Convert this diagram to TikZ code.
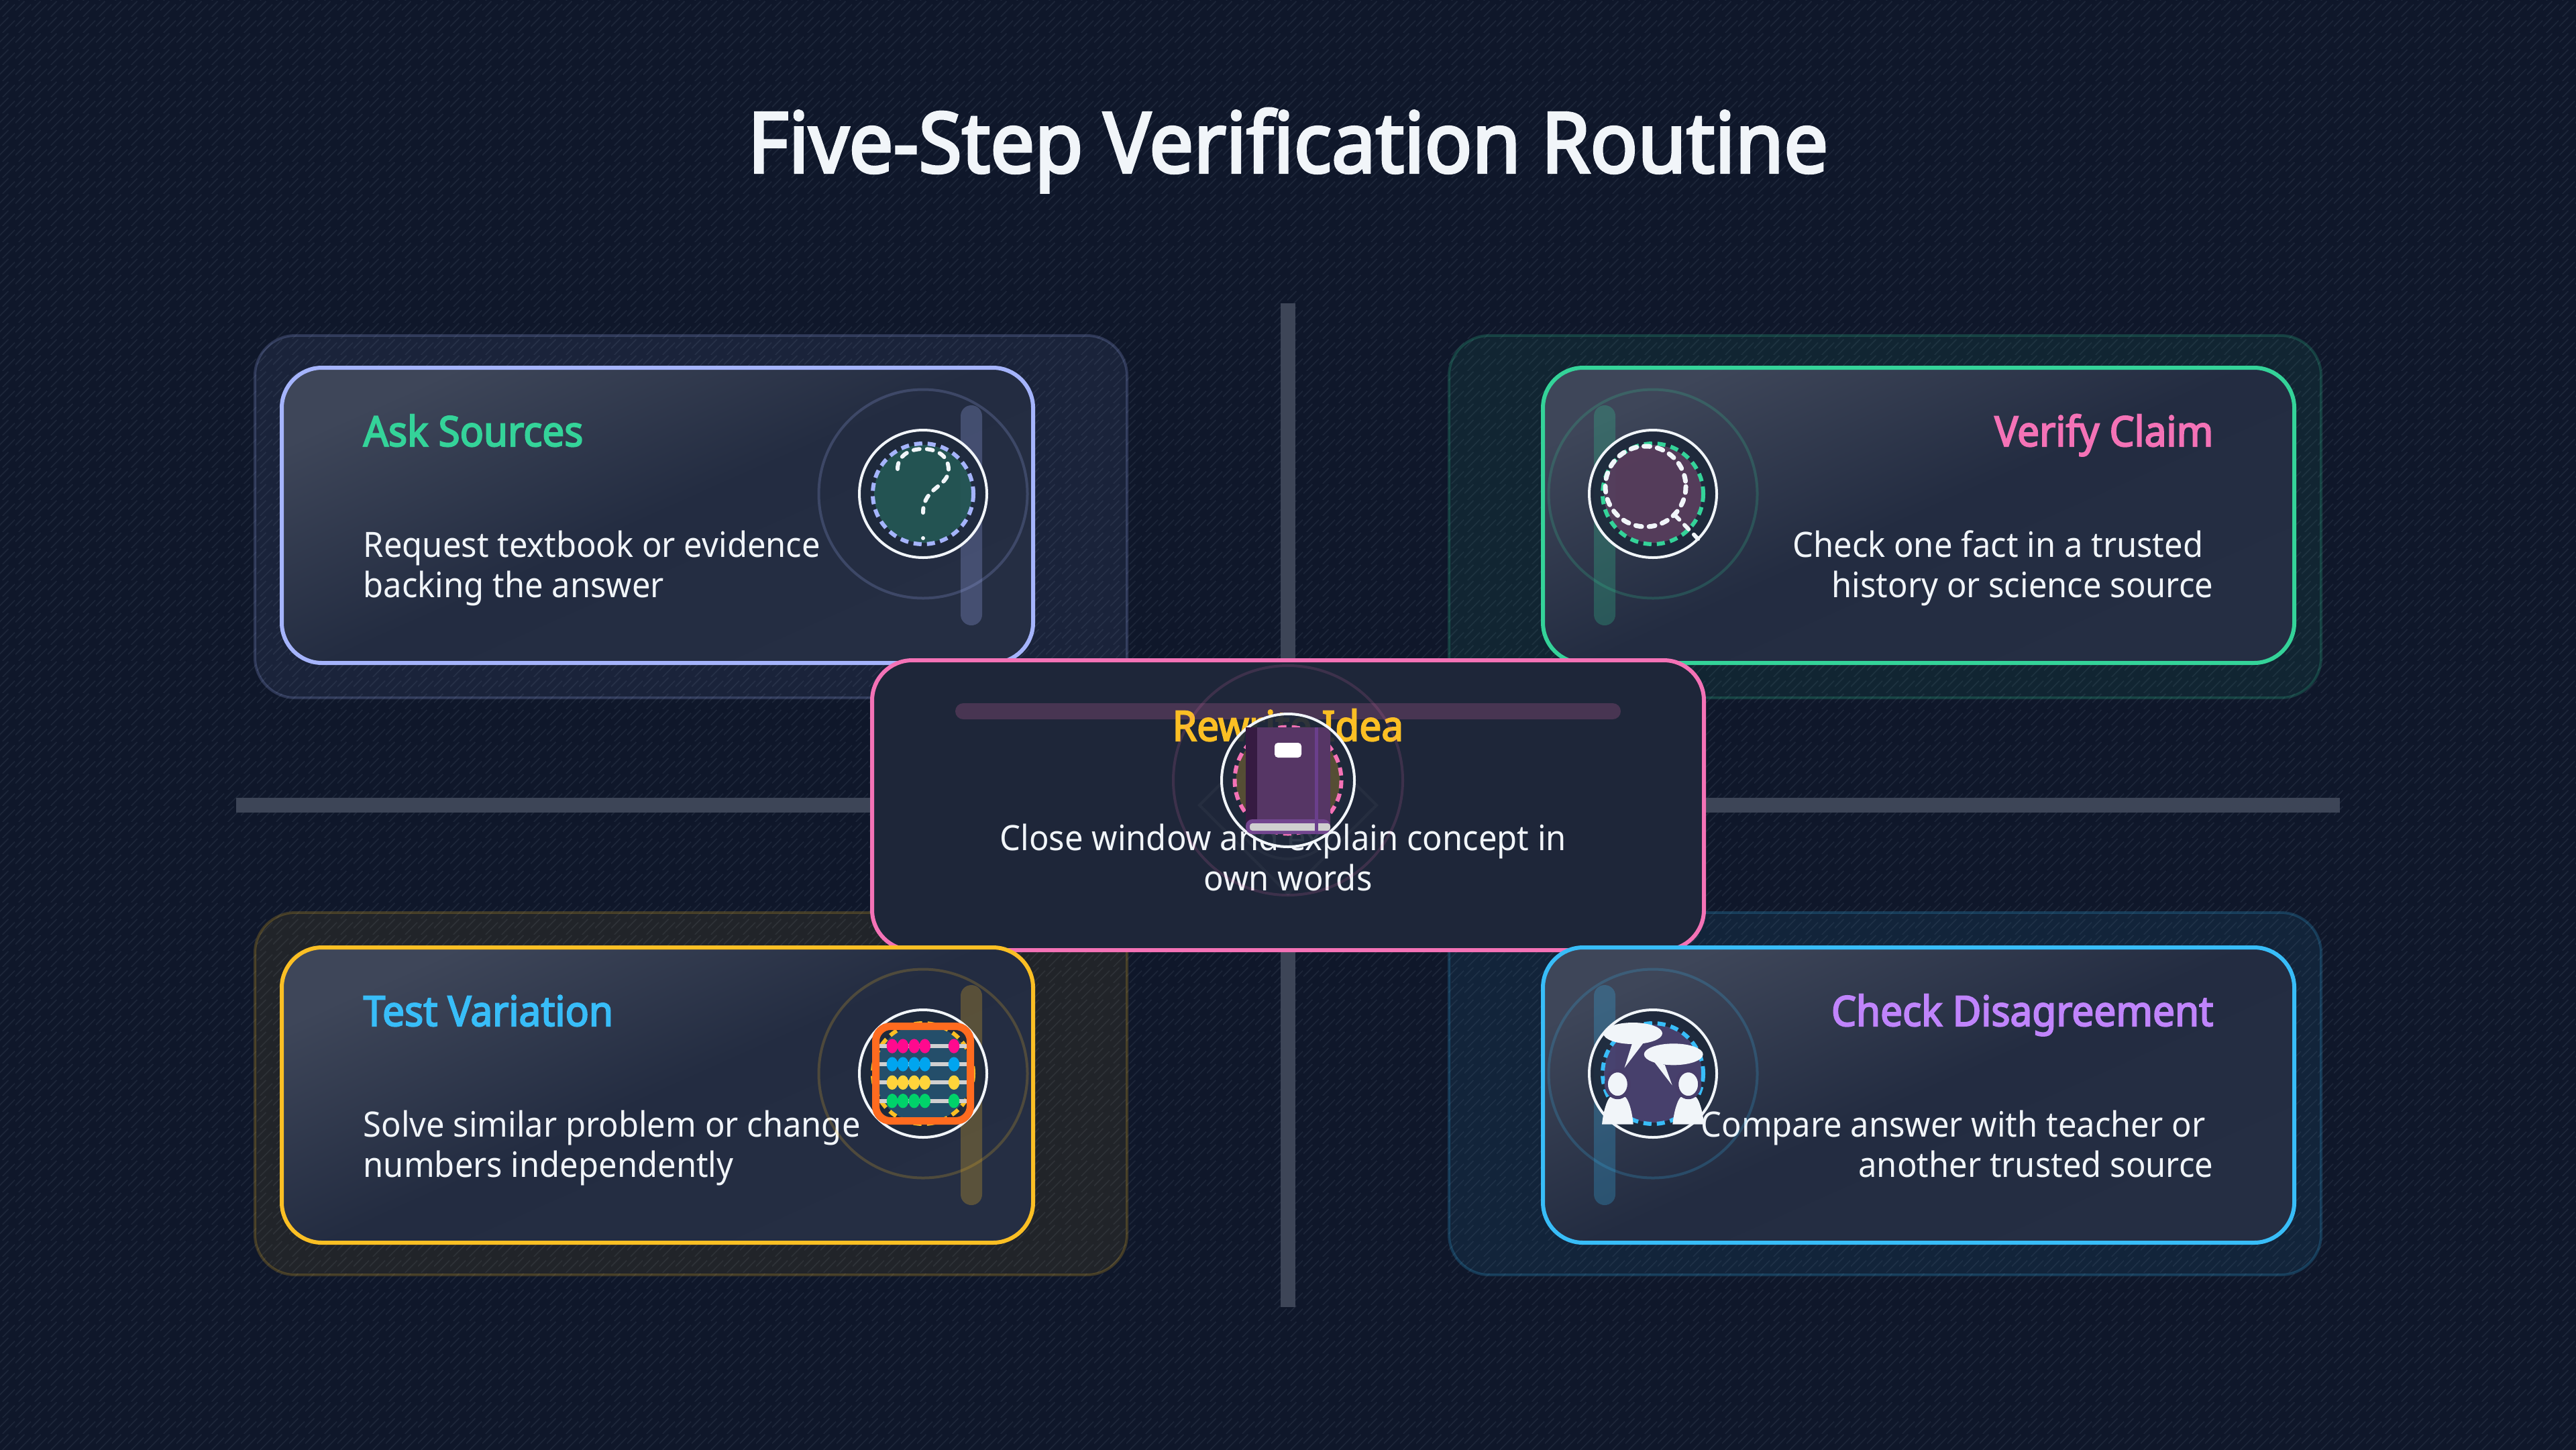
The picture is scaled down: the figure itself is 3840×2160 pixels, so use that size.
\documentclass[tikz,border=0pt]{standalone}
\usepackage{fontspec}
\setmainfont{Noto Sans}[FakeStretch=0.94]
\newfontfamily\headfont{Noto Sans}[FakeStretch=0.94,FakeBold=3.2]
\usetikzlibrary{patterns}
\definecolor{bgmid}{HTML}{0F172A}
\definecolor{bgcorner}{HTML}{1B2439}
\definecolor{hatchline}{HTML}{1D2639}
\definecolor{barcol}{HTML}{3D4557}
\definecolor{cardlight}{HTML}{3E4659}
\definecolor{carddark}{HTML}{232C41}
\definecolor{cardend}{HTML}{252E43}
\definecolor{midcard}{HTML}{1E2639}
\definecolor{discol}{HTML}{1E293B}
\definecolor{indigo}{HTML}{A5B4FC}
\definecolor{green}{HTML}{34D399}
\definecolor{pink}{HTML}{F472B6}
\definecolor{amber}{HTML}{FBBF24}
\definecolor{sky}{HTML}{38BDF8}
\definecolor{violet}{HTML}{C084FC}
\definecolor{inkwhite}{HTML}{F1F5F9}
\definecolor{bookspine}{HTML}{361B42}
\definecolor{bookcover}{HTML}{563665}
\definecolor{bookstrap}{HTML}{6A3F8C}
\definecolor{bookband}{HTML}{72468F}
\definecolor{pagegray}{HTML}{D0D0D0}
\definecolor{frameorange}{HTML}{FF6B1F}
\definecolor{beadpink}{HTML}{FF0A8E}
\definecolor{beadblue}{HTML}{00A5EF}
\definecolor{beadyellow}{HTML}{FFD43B}
\definecolor{beadgreen}{HTML}{00D26A}
\definecolor{talkfill}{HTML}{473D6A}
\pgfdeclareradialshading{bgglow}{\pgfpoint{0bp}{0bp}}{color(0bp)=(bgmid);color(30bp)=(bgmid);color(50bp)=(bgcorner)}
\pgfdeclarepatternformonly{slashes}{\pgfqpoint{0pt}{0pt}}{\pgfqpoint{6.83pt}{6.83pt}}{\pgfqpoint{6.83pt}{6.83pt}}{%
  \pgfsetlinewidth{0.5pt}
  \pgfpathmoveto{\pgfqpoint{0pt}{2.84pt}}\pgfpathlineto{\pgfqpoint{3.98pt}{6.83pt}}
  \pgfpathmoveto{\pgfqpoint{1.42pt}{0pt}}\pgfpathlineto{\pgfqpoint{6.83pt}{5.41pt}}
  \pgfusepath{stroke}}
\tikzset{
  panelbox/.style={draw=#1, draw opacity=.2, fill=#1, fill opacity=.08, line width=0.04cm, rounded corners=0.6cm},
  cardbox/.style={draw=#1, line width=0.06cm, rounded corners=0.6cm, shading=axis, top color=cardlight, bottom color=cardend, middle color=carddark, shading angle=24},
  sidebar/.style={fill=#1, fill opacity=.25, rounded corners=0.16cm},
  haloring/.style={draw=#1, draw opacity=.2, line width=0.04cm},
  discback/.style={fill=discol, fill opacity=.92},
  discring/.style={draw=inkwhite, line width=0.04cm},
  tintfill/.style={fill=#1, fill opacity=.25},
  dashring/.style={draw=#1, line width=0.06cm, dash pattern=on 0.12cm off 0.08cm},
  glyphline/.style={draw=inkwhite, line width=0.06cm, line cap=round, dash pattern=on 0.09cm off 0.11cm},
  headtext/.style={text=#1, font=\fontsize{17.7}{20}\headfont, inner sep=0pt},
  bodytext/.style={text=inkwhite, font=\fontsize{14.8}{18}\selectfont, inner sep=0pt},
  wirebar/.style={fill=pagegray},
  bead/.style={fill=#1},
  talkwhite/.style={fill=inkwhite},
}
\begin{document}
\begin{tikzpicture}[x=0.01cm,y=-0.01cm]
\useasboundingbox (0,0) rectangle (3840,2160);
\begin{scope}
\clip (0,0) rectangle (3840,2160);
\path[shading=bgglow] (-800,-450) rectangle (4640,2610);
\end{scope}
\fill[pattern=slashes, pattern color=hatchline] (0,0) rectangle (3840,2160);

\node[text=inkwhite, font=\fontsize{35.5}{40}\headfont, inner sep=0pt, anchor=base] (maintitle) at (1920,257) {Five-Step Verification Routine};

% cross
\fill[barcol] (1909,452) rectangle (1931,1948);
\fill[barcol] (352,1189) rectangle (3488,1211);

% back panels
\path[panelbox=indigo] (380,500) rectangle (1680,1040);
\path[panelbox=green] (2160,500) rectangle (3460,1040);
\path[panelbox=amber] (380,1360) rectangle (1680,1900);
\path[panelbox=sky] (2160,1360) rectangle (3460,1900);

% ask sources
\path[cardbox=indigo] (420,548) rectangle (1540,988);
\fill[sidebar=indigo] (1432,604) rectangle (1464,932);
\node[headtext=green, anchor=base west] (askhead) at (541,665) {Ask Sources};
\node[bodytext, anchor=base west] (askbodya) at (541,830) {Request textbook or evidence};
\node[bodytext, anchor=base west] (askbodyb) at (541,890) {backing the answer};
\draw[haloring=indigo] (1376,736) circle[radius=155.5];
\fill[discback] (1376,736) circle[radius=95];
\draw[discring] (1376,736) circle[radius=95];
\fill[tintfill=green] (1376,736) circle[radius=73];
\draw[dashring=indigo] (1376,736) circle[radius=75];
\draw[glyphline] (1338,699) .. controls (1338,679) and (1356,669) .. (1376,669) .. controls (1396,669) and (1414,679) .. (1414,700) .. controls (1414,726) and (1376,726) .. (1376,764);
\fill[inkwhite] (1376,802) circle[radius=3];

% verify claim
\path[cardbox=green] (2300,548) rectangle (3420,988);
\fill[sidebar=green] (2376,604) rectangle (2408,932);
\node[headtext=pink, anchor=base east] (verifyhead) at (3300,665) {Verify Claim};
\node[bodytext, anchor=base east] (verifybodya) at (3285,830) {Check one fact in a trusted};
\node[bodytext, anchor=base east] (verifybodyb) at (3300,890) {history or science source};
\draw[haloring=green] (2464,736) circle[radius=155.5];
\fill[discback] (2464,736) circle[radius=95];
\draw[discring] (2464,736) circle[radius=95];
\fill[tintfill=pink] (2464,736) circle[radius=73];
\draw[dashring=green] (2464,736) circle[radius=75];
\draw[glyphline, line width=0.07cm] (2453,725) circle[radius=60];
\draw[glyphline] (2497,768) -- (2535,807);

% rewrite idea
\path[draw=pink, fill=midcard, line width=0.06cm, rounded corners=0.6cm] (1300,984) rectangle (2540,1416);
\fill[sidebar=pink, fill opacity=.2, rounded corners=0.12cm] (1424,1048) rectangle (2416,1072);
\draw[draw=inkwhite, draw opacity=.04, line width=0.04cm] (1920,1068) -- (2052,1200) -- (1920,1332) -- (1788,1200) -- cycle;
\draw[draw=inkwhite, draw opacity=.04, line width=0.04cm] (1920,1200) circle[radius=80];
\node[headtext=amber, anchor=base] (rewritehead) at (1920,1104) {Rewrite Idea};
\node[bodytext, anchor=base] (rewritebodya) at (1913,1267) {Close window and explain concept in};
\node[bodytext, anchor=base] (rewritebodyb) at (1920,1327) {own words};
\draw[haloring=pink, draw opacity=.15] (1920,1163) circle[radius=171];
\fill[discback] (1920,1163) circle[radius=99];
\draw[discring] (1920,1163) circle[radius=99];
\fill[tintfill=amber] (1920,1163) circle[radius=77.5];
\draw[dashring=pink] (1920,1163) circle[radius=79.5];
\fill[bookcover, rounded corners=0.1cm] (1860,1084) rectangle (1983,1240);
\fill[bookspine] (1857,1084) rectangle (1874,1235);
\fill[bookband, rounded corners=0.1cm] (1857,1221) rectangle (1983,1243);
\fill[pagegray, rounded corners=0.04cm] (1863,1227) rectangle (1983,1238);
\fill[bookstrap] (1960,1084) rectangle (1965,1243);
\fill[white, rounded corners=0.05cm] (1900,1107) rectangle (1940,1129);

% test variation
\path[cardbox=amber] (420,1412) rectangle (1540,1852);
\fill[sidebar=amber] (1432,1468) rectangle (1464,1796);
\node[headtext=sky, anchor=base west] (testhead) at (541,1529) {Test Variation};
\node[bodytext, anchor=base west] (testbodya) at (541,1694) {Solve similar problem or change};
\node[bodytext, anchor=base west] (testbodyb) at (541,1754) {numbers independently};
\draw[haloring=amber] (1376,1600) circle[radius=155.5];
\fill[discback] (1376,1600) circle[radius=95];
\draw[discring] (1376,1600) circle[radius=95];
\fill[tintfill=sky] (1376,1600) circle[radius=73];
\draw[dashring=amber] (1376,1600) circle[radius=75];
\fill[wirebar] (1311,1556) rectangle (1441,1562);
\fill[wirebar] (1311,1583) rectangle (1441,1589);
\fill[wirebar] (1311,1610) rectangle (1441,1616);
\fill[wirebar] (1311,1638) rectangle (1441,1644);
\fill[bead=beadpink] (1330,1559) ellipse[x radius=8.3, y radius=10.7];
\fill[bead=beadpink] (1346,1559) ellipse[x radius=8.3, y radius=10.7];
\fill[bead=beadpink] (1362.7,1559) ellipse[x radius=8.3, y radius=10.7];
\fill[bead=beadpink] (1378.7,1559) ellipse[x radius=8.3, y radius=10.7];
\fill[bead=beadpink] (1422,1559) ellipse[x radius=8.3, y radius=10.7];
\fill[bead=beadblue] (1330,1586) ellipse[x radius=8.3, y radius=10.7];
\fill[bead=beadblue] (1346,1586) ellipse[x radius=8.3, y radius=10.7];
\fill[bead=beadblue] (1362.7,1586) ellipse[x radius=8.3, y radius=10.7];
\fill[bead=beadblue] (1378.7,1586) ellipse[x radius=8.3, y radius=10.7];
\fill[bead=beadblue] (1422,1586) ellipse[x radius=8.3, y radius=10.7];
\fill[bead=beadyellow] (1330,1613.3) ellipse[x radius=8.3, y radius=10.7];
\fill[bead=beadyellow] (1346,1613.3) ellipse[x radius=8.3, y radius=10.7];
\fill[bead=beadyellow] (1362.7,1613.3) ellipse[x radius=8.3, y radius=10.7];
\fill[bead=beadyellow] (1378.7,1613.3) ellipse[x radius=8.3, y radius=10.7];
\fill[bead=beadyellow] (1422,1613.3) ellipse[x radius=8.3, y radius=10.7];
\fill[bead=beadgreen] (1330,1640.7) ellipse[x radius=8.3, y radius=10.7];
\fill[bead=beadgreen] (1346,1640.7) ellipse[x radius=8.3, y radius=10.7];
\fill[bead=beadgreen] (1362.7,1640.7) ellipse[x radius=8.3, y radius=10.7];
\fill[bead=beadgreen] (1378.7,1640.7) ellipse[x radius=8.3, y radius=10.7];
\fill[bead=beadgreen] (1422,1640.7) ellipse[x radius=8.3, y radius=10.7];
\draw[frameorange, line width=0.11cm, rounded corners=0.22cm] (1305.5,1529.5) rectangle (1446.5,1670.5);

% check disagreement
\path[cardbox=sky] (2300,1412) rectangle (3420,1852);
\fill[sidebar=sky] (2376,1468) rectangle (2408,1796);
\node[headtext=violet, anchor=base east] (checkhead) at (3300,1529) {Check Disagreement};
\node[bodytext, anchor=base east] (checkbodya) at (3288,1694) {Compare answer with teacher or};
\node[bodytext, anchor=base east] (checkbodyb) at (3300,1754) {another trusted source};
\draw[haloring=sky] (2464,1600) circle[radius=155.5];
\fill[discback] (2464,1600) circle[radius=95];
\draw[discring] (2464,1600) circle[radius=95];
\fill[tintfill=violet] (2464,1600) circle[radius=73];
\draw[dashring=sky] (2464,1600) circle[radius=75];
\fill[talkwhite] (2434,1540) ellipse[x radius=44, y radius=16];
\fill[talkwhite] (2433,1555) -- (2421.5,1591.5) -- (2450,1554) -- cycle;
\fill[talkwhite] (2494.7,1571.3) ellipse[x radius=44, y radius=16];
\fill[talkwhite] (2465.7,1582.5) -- (2492.7,1617.5) -- (2481.7,1587) -- cycle;
\fill[talkwhite] (2388,1675.7) .. controls (2390,1656) and (2395,1640) .. (2400,1635) -- (2423,1635) .. controls (2428,1640) and (2433,1656) .. (2434.7,1675.7) -- cycle;
\draw[talkwhite, draw=talkfill, line width=0.05cm] (2411.3,1615.7) ellipse[x radius=17, y radius=20];
\fill[talkwhite] (2493.3,1675.7) .. controls (2495.3,1656) and (2500.3,1640) .. (2505.3,1635) -- (2528.3,1635) .. controls (2533.3,1640) and (2538.3,1656) .. (2540,1675.7) -- cycle;
\draw[talkwhite, draw=talkfill, line width=0.05cm] (2516.7,1615.7) ellipse[x radius=17, y radius=20];
\end{tikzpicture}
\end{document}
